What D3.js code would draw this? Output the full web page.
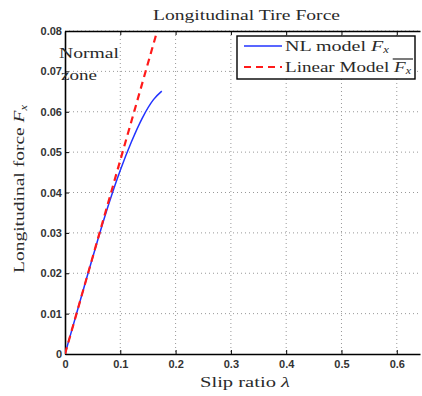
<!DOCTYPE html>
<html>
<head>
<meta charset="utf-8">
<script src="https://cdn.jsdelivr.net/npm/d3@7"></script>
<style>
  body { margin: 0; background: #fff; }
  .tick text { font-family: "Liberation Sans", Arial, sans-serif; font-size: 11px; font-weight: bold; fill: #333; }
  .serif { font-family: "Liberation Serif", "DejaVu Serif", serif; fill: #2a2a2a; }
</style>
</head>
<body>
<script>
// data
const xTicks = [0, 0.1, 0.2, 0.3, 0.4, 0.5, 0.6];
const yTicks = [0, 0.01, 0.02, 0.03, 0.04, 0.05, 0.06, 0.07, 0.08];

const nlSlip  = [0, 0.02, 0.04, 0.06, 0.08, 0.10, 0.12, 0.14, 0.16, 0.175];
const nlForce = [0, 0.0096, 0.0192, 0.0286, 0.0375, 0.0455, 0.0525, 0.0585, 0.0630, 0.0651];

const linSlip  = [0, 0.17];
const linForce = [0, 0.0816];

const W = 422, H = 396;
const margin = { top: 31, right: 2, bottom: 42, left: 65 };
const width = W - margin.left - margin.right;
const height = H - margin.top - margin.bottom;

const svg = d3.select('body').append('svg')
  .attr('width', W)
  .attr('height', H);

const g = svg.append('g')
  .attr('transform', `translate(${margin.left},${margin.top})`);

const x = d3.scaleLinear().domain([0, 0.642]).range([0, width]);
const y = d3.scaleLinear().domain([0, 0.08]).range([height, 0]);

// dotted grid
g.append('g').selectAll('line')
  .data(xTicks.slice(1))
  .join('line')
  .attr('x1', d => x(d)).attr('x2', d => x(d))
  .attr('y1', 0).attr('y2', height)
  .attr('stroke', '#999').attr('stroke-width', 1).attr('stroke-dasharray', '1,3');
g.append('g').selectAll('line')
  .data(yTicks.slice(1))
  .join('line')
  .attr('x1', 0).attr('x2', width)
  .attr('y1', d => y(d)).attr('y2', d => y(d))
  .attr('stroke', '#999').attr('stroke-width', 1).attr('stroke-dasharray', '1,3');

// axes
const fmt = d => d === 0 ? '0' : d3.format('.2~f')(d);
g.append('g')
  .attr('transform', `translate(0,${height})`)
  .call(d3.axisBottom(x).tickValues(xTicks).tickFormat(d => d === 0 ? '0' : d3.format('.1f')(d)).tickSizeInner(-4).tickSizeOuter(0).tickPadding(6));
g.append('g')
  .call(d3.axisTop(x).tickValues(xTicks).tickFormat('').tickSizeInner(-4).tickSizeOuter(0));
g.append('g')
  .call(d3.axisLeft(y).tickValues(yTicks).tickFormat(fmt).tickSizeInner(-4).tickSizeOuter(0).tickPadding(3));
g.selectAll('.domain').attr('stroke', '#000').attr('stroke-width', 1.6);
g.selectAll('.tick line').attr('stroke', '#000');

// clip
svg.append('defs').append('clipPath').attr('id', 'clip')
  .append('rect').attr('width', width).attr('height', height);

const line = d3.line().x(d => x(d[0])).y(d => y(d[1]));

g.append('path')
  .attr('clip-path', 'url(#clip)')
  .datum(d3.zip(nlSlip, nlForce))
  .attr('d', line.curve(d3.curveMonotoneX))
  .attr('fill', 'none').attr('stroke', '#2233ff').attr('stroke-width', 1.5);

g.append('path')
  .attr('clip-path', 'url(#clip)')
  .datum(d3.zip(linSlip, linForce))
  .attr('d', d3.line().x(d => x(d[0])).y(d => y(d[1])))
  .attr('fill', 'none').attr('stroke', '#ff1a1a').attr('stroke-width', 2.2).attr('stroke-dasharray', '7,5');

// title and labels (glyphs stretched to the widths measured on the picture)
const title = svg.append('text').attr('class', 'serif')
  .attr('x', 153).attr('y', 20).attr('font-size', 15)
  .text('Longitudinal Tire Force');
stretch(title, 187);

const xl = svg.append('text').attr('class', 'serif')
  .attr('x', 200).attr('y', 387).attr('font-size', 15);
xl.append('tspan').text('Slip ratio ');
xl.append('tspan').attr('font-style', 'italic').text('λ');
stretch(xl, 90);

const yl = svg.append('text').attr('class', 'serif')
  .attr('transform', 'translate(24,273) rotate(-90)')
  .attr('font-size', 15);
yl.append('tspan').text('Longitudinal force ');
yl.append('tspan').attr('font-style', 'italic').text('F');
yl.append('tspan').attr('font-style', 'italic').attr('font-size', 9.5).attr('dy', 3).text('x');
stretch(yl, 168);

// annotation
const n1 = svg.append('text').attr('class', 'serif').attr('x', 59).attr('y', 58).attr('font-size', 15).text('Normal');
stretch(n1, 60);
const n2 = svg.append('text').attr('class', 'serif').attr('x', 61).attr('y', 80).attr('font-size', 15).text('zone');
stretch(n2, 36);

// legend
const lg = svg.append('g');
lg.append('rect')
  .attr('x', 237).attr('y', 36).attr('width', 178).attr('height', 43)
  .attr('fill', '#fff').attr('stroke', '#000').attr('stroke-width', 1.4);
lg.append('line').attr('x1', 244).attr('x2', 282).attr('y1', 46).attr('y2', 46)
  .attr('stroke', '#2233ff').attr('stroke-width', 1.5);
lg.append('line').attr('x1', 244).attr('x2', 282).attr('y1', 67).attr('y2', 67)
  .attr('stroke', '#ff1a1a').attr('stroke-width', 2.2).attr('stroke-dasharray', '7,5');

const t1 = lg.append('text').attr('class', 'serif').attr('x', 285).attr('y', 51).attr('font-size', 15);
t1.append('tspan').text('NL model ');
t1.append('tspan').attr('font-style', 'italic').text('F');
t1.append('tspan').attr('font-style', 'italic').attr('font-size', 9.5).attr('dy', 2).text('x');
stretch(t1, 104);

const t2 = lg.append('text').attr('class', 'serif').attr('x', 285).attr('y', 72).attr('font-size', 15);
t2.append('tspan').text('Linear Model ');
const fb = t2.append('tspan').attr('font-style', 'italic').text('F');
const xb = t2.append('tspan').attr('font-style', 'italic').attr('font-size', 9.5).attr('dy', 2).text('x');
stretch(t2, 126);
// overline above F_x
const b1 = fb.node().getBBox(), b2 = xb.node().getBBox();
lg.append('line')
  .attr('x1', b1.x).attr('x2', b2.x + b2.width + 1)
  .attr('y1', 59).attr('y2', 59).attr('stroke', '#222').attr('stroke-width', 1.2);

function stretch(sel, target) {
  sel.attr('textLength', target).attr('lengthAdjust', 'spacingAndGlyphs');
}
</script>
</body>
</html>
